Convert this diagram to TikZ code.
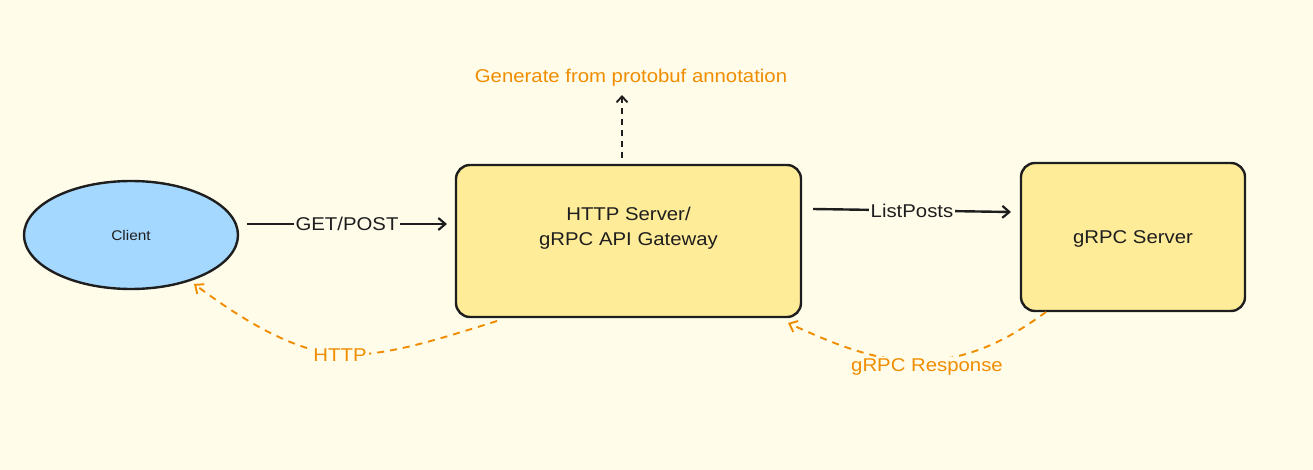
\documentclass[tikz,border=0pt]{standalone}
\usepackage{fontspec}
\setmainfont[FakeStretch=1.1]{Liberation Sans}
\usetikzlibrary{arrows.meta,shapes.geometric}
\definecolor{bgc}{RGB}{255,253,234}
\definecolor{inkc}{RGB}{30,30,30}
\definecolor{bluefill}{RGB}{165,216,255}
\definecolor{yelfill}{RGB}{255,236,153}
\definecolor{orangec}{RGB}{240,140,0}
\tikzset{
  boxnode/.style={draw=inkc, fill=yelfill, line width=2.4pt, rounded corners=14pt, inner sep=0pt},
  boxtext/.style={font=\fontsize{18.5}{25}\selectfont, text=inkc, align=center},
  solidarrow/.style={draw=inkc, line width=2.4pt, -{Straight Barb[length=7pt,width=12pt,line width=2.2pt]}},
  dasharrow/.style={draw=inkc, line width=1.9pt, dash pattern=on 6pt off 5pt, -{Straight Barb[length=6pt,width=11pt,line width=1.9pt]}},
  orangearrow/.style={draw=orangec, line width=1.9pt, dash pattern=on 7pt off 6pt, -{Straight Barb[length=7pt,width=12pt,line width=1.9pt]}},
  edgelabel/.style={fill=bgc, inner sep=2pt, text=inkc, font=\fontsize{18.5}{22}\selectfont},
  olabel/.style={fill=bgc, inner sep=2pt, text=orangec, font=\fontsize{18.5}{22}\selectfont}
}
\begin{document}
\begin{tikzpicture}[x=1pt,y=-1pt]
\fill[bgc] (0,0) rectangle (1313,470);
\useasboundingbox (0,0) rectangle (1313,470);

\node[ellipse, draw=inkc, fill=bluefill, line width=2.4pt, minimum width=214pt, minimum height=108pt, inner sep=0pt, font=\fontsize{14}{17}\selectfont, text=inkc] (client) at (131,235) {Client};

\node[boxnode, minimum width=345pt, minimum height=152pt] (gw) at (628.5,241) {};
\node[boxtext] (gwt) at ([yshift=13pt]gw.center) {HTTP Server/\\gRPC API Gateway};

\node[boxnode, minimum width=224pt, minimum height=148pt] (srv) at (1133,237) {};
\node[boxtext] (srvt) at ([yshift=-2pt]srv.center) {gRPC Server};

\node[text=orangec, font=\fontsize{18.5}{22}\selectfont] (gen) at (631,78) {Generate from protobuf annotation};

% GET/POST
\coordinate (a1) at (247,224);
\coordinate (a2) at (447,224);
\draw[solidarrow] (a1) -- node[edgelabel] {GET/POST} (a2);

% ListPosts
\coordinate (b1) at (813,209);
\coordinate (b2) at (1011,212);
\draw[solidarrow] (b1) -- node[edgelabel] {ListPosts} (b2);

% generate
\coordinate (g1) at (622,158);
\coordinate (g2) at (622,95);
\draw[dasharrow] (g1) -- (g2);

% HTTP return
\coordinate (h1) at (497,321);
\coordinate (hm) at (340,355);
\coordinate (h2) at (194,284);
\draw[orangearrow] (h1) .. controls (430,342) and (385,356) .. (hm) .. controls (290,350) and (240,318) .. (h2);
\node[olabel] (httpl) at (hm) {HTTP};

% gRPC response
\coordinate (r1) at (1046,312);
\coordinate (rm) at (920,362);
\coordinate (r2) at (788,323);
\draw[orangearrow] (r1) .. controls (1010,338) and (975,358) .. (rm) .. controls (870,360) and (830,342) .. (r2);
\node[olabel] (grl) at (927,367) {gRPC Response};
\end{tikzpicture}
\end{document}
